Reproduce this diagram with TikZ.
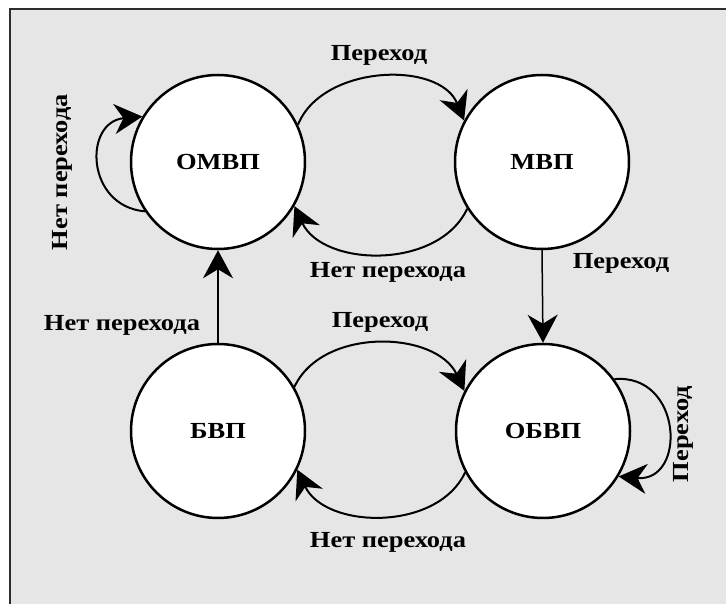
\documentclass[tikz,border=0pt]{standalone}
\usepackage{fontspec}
\setmainfont{Liberation Serif}[FakeStretch=1.15]
\usetikzlibrary{arrows.meta,positioning}
\definecolor{panel}{RGB}{230,230,230}
\definecolor{frame}{RGB}{45,45,45}
\tikzset{
  state/.style={circle,draw,fill=white,line width=2.5pt,minimum size=174pt,inner sep=0pt,font=\bfseries\fontsize{23}{27}\selectfont},
  lbl/.style={font=\bfseries\fontsize{23}{27}\selectfont,inner sep=0pt},
  link/.style={line width=2pt,-{Stealth[length=28pt,width=30pt,inset=9pt]}},
}
\begin{document}
\begin{tikzpicture}[x=1pt,y=1pt]
  \useasboundingbox (0,0) rectangle (726,604);
  \fill[white] (0,0) rectangle (726,604);
  \fill[panel] (10,0) rectangle (726,595);
  \draw[frame,line width=1.5pt] (10,0) -- (10,595) -- (726,595);
  % states
  \node[state] (omvp) at (218,442) {ОМВП};
  \node[state] (mvp) at (542,442) {МВП};
  \node[state] (bvp) at (218,173) {БВП};
  \node[state] (obvp) at (543,173) {ОБВП};
  % transitions
  \draw[link] (omvp.25) to[out=68,in=112] (mvp.152);
  \draw[link] (mvp.212) to[out=-115,in=-65] (omvp.330);
  \draw[link] (omvp.214) to[out=175,in=185,looseness=1.6] (omvp.149);
  \draw[link,line width=1.5pt] (mvp.south) -- (obvp.north);
  \draw[link,line width=1.5pt] (bvp.north) -- (omvp.south);
  \draw[link] (bvp.30) to[out=65,in=115] (obvp.153);
  \draw[link] (obvp.208) to[out=-115,in=-65] (bvp.334);
  \draw[link] (obvp.36) to[out=5,in=-5,looseness=1.8] (obvp.329);
  % labels
  \node[lbl] (t1) at (379,549) {Переход};
  \node[lbl] (t2) at (388,332) {Нет перехода};
  \node[lbl] (t3) at (621,341) {Переход};
  \node[lbl] (t4) at (122,279) {Нет перехода};
  \node[lbl] (t5) at (380,282) {Переход};
  \node[lbl] (t6) at (388,62) {Нет перехода};
  \node[lbl,rotate=90] (t7) at (62,432) {Нет перехода};
  \node[lbl,rotate=90] (t8) at (683,170) {Переход};
\end{tikzpicture}
\end{document}
